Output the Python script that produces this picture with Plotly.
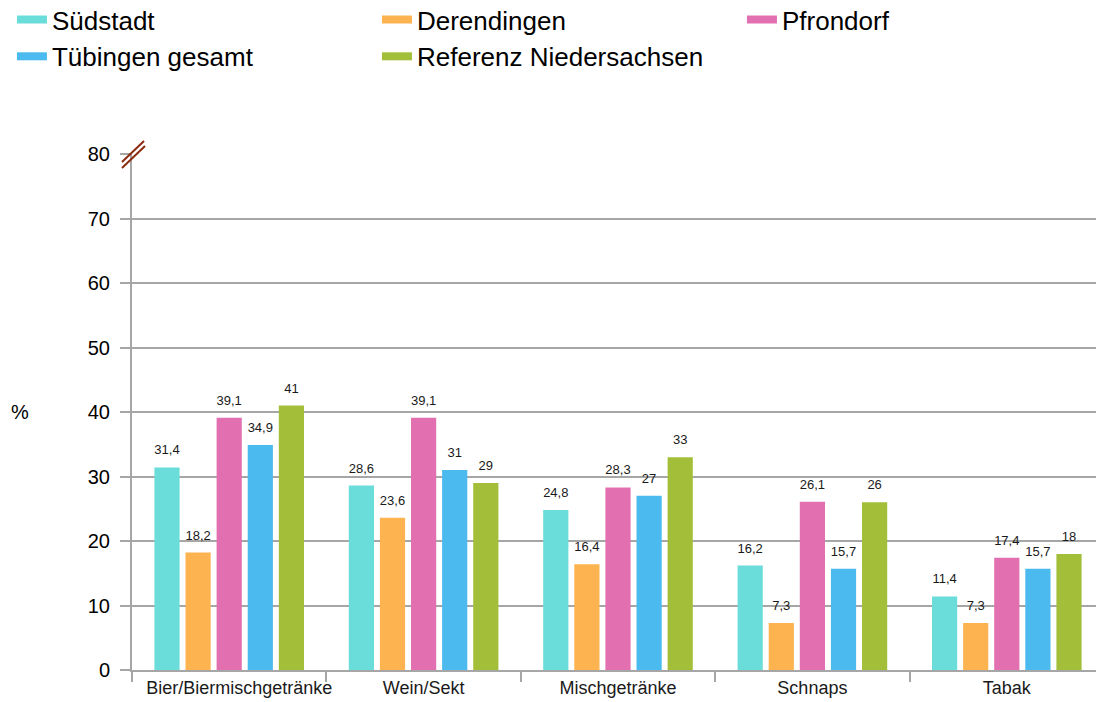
import plotly.graph_objects as go

kategorien = ["Bier/Biermischgetränke", "Wein/Sekt", "Mischgetränke", "Schnaps", "Tabak"]

suedstadt = [31.4, 28.6, 24.8, 16.2, 11.4]
derendingen = [18.2, 23.6, 16.4, 7.3, 7.3]
pfrondorf = [39.1, 39.1, 28.3, 26.1, 17.4]
tuebingen = [34.9, 31, 27, 15.7, 15.7]
niedersachsen = [41, 29, 33, 26, 18]

y_ticks = [0, 10, 20, 30, 40, 50, 60, 70, 80]

serien = [
    ("Südstadt", suedstadt, "#6ADDDA"),
    ("Derendingen", derendingen, "#FDB450"),
    ("Pfrondorf", pfrondorf, "#E270B1"),
    ("Tübingen gesamt", tuebingen, "#4BBAEE"),
    ("Referenz Niedersachsen", niedersachsen, "#A3BF3A"),
]

FONT = "Liberation Sans, Arial, sans-serif"
GRAU = "#A6A6A6"


def label(v):
    # deutsche Schreibweise: Komma statt Punkt
    return f"{v:g}".replace(".", ",")


# erste Beschriftung sitzt im Original etwas nach rechts versetzt
tick_text = ["\u00a0" * 4 + kategorien[0]] + kategorien[1:]

fig = go.Figure()

for name, werte, farbe in serien:
    fig.add_trace(go.Bar(
        name=name,
        x=kategorien,
        y=werte,
        offsetgroup=name,
        legendgroup=name,
        showlegend=False,
        marker=dict(color=farbe, line=dict(width=0)),
        hoverinfo="x+y+name",
    ))

# Wertebeschriftungen als eigene Text-Traces, gleich gruppiert wie die Balken
for name, werte, farbe in serien:
    fig.add_trace(go.Scatter(
        x=kategorien,
        y=werte,
        offsetgroup=name,
        legendgroup=name,
        mode="markers+text",
        marker=dict(size=14, opacity=0),
        text=[label(v) for v in werte],
        textposition="top center",
        textfont=dict(size=13, color="#1a1a1a", family=FONT),
        showlegend=False,
        hoverinfo="skip",
        cliponaxis=False,
    ))

# flache Legendensymbole wie im Original
for name, werte, farbe in serien:
    fig.add_trace(go.Scatter(
        x=[None],
        y=[None],
        name=name,
        offsetgroup=name,
        legendgroup=name,
        mode="lines",
        line=dict(color=farbe, width=8),
        hoverinfo="skip",
    ))

fig.update_layout(
    width=1096,
    height=694,
    barmode="group",
    bargap=0.2,
    bargroupgap=0.19,
    scattermode="group",
    scattergap=0.2,
    plot_bgcolor="white",
    paper_bgcolor="white",
    font=dict(family=FONT, color="#000000"),
    margin=dict(l=124, r=0, t=146, b=32, autoexpand=False),
    showlegend=True,
    legend=dict(
        orientation="h",
        xref="paper",
        yref="paper",
        x=-0.1235,
        y=1.306,
        xanchor="left",
        yanchor="top",
        entrywidth=320,
        entrywidthmode="pixels",
        font=dict(size=26, family=FONT, color="#000000"),
        itemclick=False,
        traceorder="normal",
        tracegroupgap=0,
    ),
    xaxis=dict(
        type="category",
        range=[-0.5, 4.5],
        tickmode="array",
        tickvals=kategorien,
        ticktext=tick_text,
        showline=True,
        linecolor=GRAU,
        linewidth=2,
        ticks="outside",
        tickson="boundaries",
        ticklen=10,
        tickcolor=GRAU,
        tickwidth=1.5,
        tickangle=0,
        tickfont=dict(size=18, family=FONT, color="#1a1a1a"),
        showgrid=False,
    ),
    yaxis=dict(
        range=[0, 80],
        tickvals=y_ticks,
        showline=True,
        linecolor=GRAU,
        linewidth=2,
        ticks="outside",
        ticklen=10,
        tickcolor=GRAU,
        tickwidth=1.5,
        ticklabelstandoff=6,
        showgrid=True,
        gridcolor=GRAU,
        gridwidth=1.5,
        zeroline=False,
        tickfont=dict(size=20, family=FONT, color="#000000"),
    ),
)

# Achsentitel "%" waagerecht links
fig.add_annotation(
    text="%",
    xref="paper",
    yref="paper",
    x=-0.115,
    y=0.5,
    xanchor="center",
    yanchor="middle",
    showarrow=False,
    font=dict(size=20, family=FONT, color="#000000"),
)

# Achsenbruch-Markierung oben links
for dx0, dy0, dx1, dy1 in [(-10, -8, 12, 13), (-10, -14, 13, 8)]:
    fig.add_shape(
        type="line",
        xref="paper", xsizemode="pixel", xanchor=0,
        yref="paper", ysizemode="pixel", yanchor=1,
        x0=dx0, y0=dy0, x1=dx1, y1=dy1,
        line=dict(color="#8B2A0E", width=2),
    )

fig.write_html("out.html")
